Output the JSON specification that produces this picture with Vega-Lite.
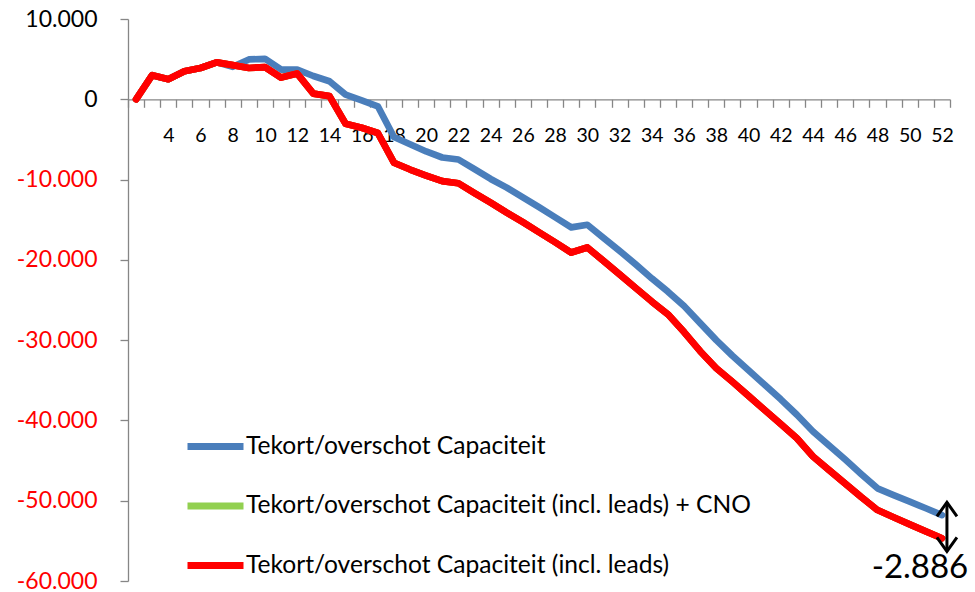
{
  "$schema": "https://vega.github.io/schema/vega-lite/v6.json",
  "width": 822,
  "height": 562,
  "autosize": "none",
  "padding": {"left": 128, "top": 19, "right": 25, "bottom": 11},
  "background": "white",
  "config": {
    "view": {"stroke": null},
    "font": "Lato",
    "locale": {"number": {"decimal": ",", "thousands": ".", "grouping": [3], "currency": ["€", ""], "minus": "-"}}
  },
  "datasets": {
    "weeks": [
      {"week": 2, "cap": 0, "cno": 0, "leads": 0},
      {"week": 3, "cap": 3000, "cno": 3000, "leads": 3000},
      {"week": 4, "cap": 2500, "cno": 2500, "leads": 2500},
      {"week": 5, "cap": 3500, "cno": 3500, "leads": 3500},
      {"week": 6, "cap": 3900, "cno": 3900, "leads": 3900},
      {"week": 7, "cap": 4600, "cno": 4600, "leads": 4600},
      {"week": 8, "cap": 4050, "cno": 4250, "leads": 4250},
      {"week": 9, "cap": 4960, "cno": 3900, "leads": 3900},
      {"week": 10, "cap": 5040, "cno": 4000, "leads": 4000},
      {"week": 11, "cap": 3700, "cno": 2700, "leads": 2700},
      {"week": 12, "cap": 3700, "cno": 3200, "leads": 3200},
      {"week": 13, "cap": 2900, "cno": 700, "leads": 700},
      {"week": 14, "cap": 2250, "cno": 400, "leads": 400},
      {"week": 15, "cap": 590, "cno": -3040, "leads": -3040},
      {"week": 16, "cap": -125, "cno": -3540, "leads": -3540},
      {"week": 17, "cap": -875, "cno": -4200, "leads": -4200},
      {"week": 18, "cap": -4700, "cno": -7900, "leads": -7900},
      {"week": 19, "cap": -5600, "cno": -8750, "leads": -8750},
      {"week": 20, "cap": -6500, "cno": -9500, "leads": -9500},
      {"week": 21, "cap": -7250, "cno": -10200, "leads": -10200},
      {"week": 22, "cap": -7500, "cno": -10460, "leads": -10460},
      {"week": 23, "cap": -8710, "cno": -11690, "leads": -11690},
      {"week": 24, "cap": -9925, "cno": -12875, "leads": -12875},
      {"week": 25, "cap": -11000, "cno": -14125, "leads": -14125},
      {"week": 26, "cap": -12210, "cno": -15310, "leads": -15310},
      {"week": 27, "cap": -13440, "cno": -16560, "leads": -16560},
      {"week": 28, "cap": -14690, "cno": -17810, "leads": -17810},
      {"week": 29, "cap": -15960, "cno": -19090, "leads": -19090},
      {"week": 30, "cap": -15625, "cno": -18460, "leads": -18460},
      {"week": 31, "cap": -17250, "cno": -20125, "leads": -20125},
      {"week": 32, "cap": -18875, "cno": -21810, "leads": -21810},
      {"week": 33, "cap": -20560, "cno": -23500, "leads": -23500},
      {"week": 34, "cap": -22310, "cno": -25190, "leads": -25190},
      {"week": 35, "cap": -23960, "cno": -26790, "leads": -26790},
      {"week": 36, "cap": -25750, "cno": -29000, "leads": -29000},
      {"week": 37, "cap": -27875, "cno": -31375, "leads": -31375},
      {"week": 38, "cap": -30000, "cno": -33500, "leads": -33500},
      {"week": 39, "cap": -31940, "cno": -35190, "leads": -35190},
      {"week": 40, "cap": -33750, "cno": -36940, "leads": -36940},
      {"week": 41, "cap": -35560, "cno": -38690, "leads": -38690},
      {"week": 42, "cap": -37375, "cno": -40440, "leads": -40440},
      {"week": 43, "cap": -39290, "cno": -42210, "leads": -42210},
      {"week": 44, "cap": -41375, "cno": -44500, "leads": -44500},
      {"week": 45, "cap": -43125, "cno": -46190, "leads": -46190},
      {"week": 46, "cap": -44875, "cno": -47875, "leads": -47875},
      {"week": 47, "cap": -46690, "cno": -49560, "leads": -49560},
      {"week": 48, "cap": -48460, "cno": -51160, "leads": -51160},
      {"week": 49, "cap": -49310, "cno": -52060, "leads": -52060},
      {"week": 50, "cap": -50125, "cno": -52940, "leads": -52940},
      {"week": 51, "cap": -50940, "cno": -53810, "leads": -53810},
      {"week": 52, "cap": -51790, "cno": -54676, "leads": -54676}
    ],
    "note": [
      {"week": 52, "top": -50200, "bottom": -56300, "label": "-2.886"}
    ]
  },
  "layer": [
    {
      "data": {"name": "weeks"},
      "transform": [{"fold": ["cap", "cno", "leads"], "as": ["series", "value"]}],
      "mark": {"type": "line", "strokeWidth": 6.7, "strokeJoin": "round", "strokeCap": "round"},
      "encoding": {
        "x": {
          "field": "week", "type": "ordinal",
          "scale": {"paddingInner": 0, "paddingOuter": 0},
          "axis": {
            "title": null,
            "offset": {"expr": "scale('y', 0) - height"},
            "domainColor": "#868686", "domainWidth": 1.3,
            "tickColor": "#868686", "tickWidth": 1.3, "tickSize": 8,
            "tickBand": "extent",
            "labelExpr": "datum.value % 2 == 0 && datum.value >= 4 ? datum.value : ''",
            "labelAngle": 0, "labelFont": "Lato", "labelFontSize": 19.5,
            "labelColor": "black", "labelPadding": 19, "labelOverlap": false
          }
        },
        "y": {
          "field": "value", "type": "quantitative",
          "scale": {"domain": [-60000, 10000], "nice": false, "zero": false},
          "axis": {
            "title": null,
            "values": [-60000, -50000, -40000, -30000, -20000, -10000, 0, 10000],
            "format": ",.0f",
            "grid": false,
            "domainColor": "#868686", "domainWidth": 1.3,
            "tickColor": "#868686", "tickWidth": 1.3, "tickSize": 8,
            "labelFont": "Lato", "labelFontSize": 23, "labelPadding": 23,
            "labelColor": {"condition": {"test": "datum.value < 0", "value": "#FF0000"}, "value": "black"}
          }
        },
        "color": {
          "field": "series", "type": "nominal",
          "scale": {"domain": ["cap", "cno", "leads"], "range": ["#4A7EBB", "#92D050", "#FF0000"]},
          "legend": {
            "title": null,
            "orient": "none", "legendX": 56, "legendY": 396,
            "direction": "vertical",
            "symbolType": "stroke", "symbolSize": 3136, "symbolStrokeWidth": 7,
            "labelFont": "Lato", "labelFontSize": 24.6, "labelColor": "black",
            "labelLimit": 1000, "labelOffset": -1, "rowPadding": 13.5, "padding": 0,
            "labelExpr": "datum.label == 'cap' ? 'Tekort/overschot Capaciteit' : datum.label == 'cno' ? 'Tekort/overschot Capaciteit (incl. leads) + CNO' : 'Tekort/overschot Capaciteit (incl. leads)'"
          }
        }
      }
    },
    {
      "data": {"name": "weeks"},
      "mark": {"type": "line", "strokeWidth": 6.7, "strokeJoin": "round", "strokeCap": "round", "color": "#FF0000"},
      "encoding": {
        "x": {"field": "week", "type": "ordinal"},
        "y": {"field": "leads", "type": "quantitative"}
      }
    },
    {
      "data": {"name": "note"},
      "mark": {"type": "rule", "color": "black", "strokeWidth": 3, "xOffset": 5},
      "encoding": {
        "x": {"field": "week", "type": "ordinal"},
        "y": {"field": "top", "type": "quantitative"},
        "y2": {"field": "bottom"}
      }
    },
    {
      "data": {"name": "note"},
      "mark": {"type": "point", "shape": "M-1,1.4L0,0L1,1.4", "filled": false, "stroke": "black", "strokeWidth": 3, "size": 400, "opacity": 1, "xOffset": 5},
      "encoding": {
        "x": {"field": "week", "type": "ordinal"},
        "y": {"field": "top", "type": "quantitative"}
      }
    },
    {
      "data": {"name": "note"},
      "mark": {"type": "point", "shape": "M-1,-1.4L0,0L1,-1.4", "filled": false, "stroke": "black", "strokeWidth": 3, "size": 400, "opacity": 1, "xOffset": 5},
      "encoding": {
        "x": {"field": "week", "type": "ordinal"},
        "y": {"field": "bottom", "type": "quantitative"}
      }
    },
    {
      "data": {"name": "note"},
      "mark": {"type": "text", "font": "Lato", "fontSize": 33, "color": "black", "align": "center", "baseline": "alphabetic", "dx": -22, "dy": 27},
      "encoding": {
        "x": {"field": "week", "type": "ordinal"},
        "y": {"field": "bottom", "type": "quantitative"},
        "text": {"field": "label"}
      }
    }
  ]
}
